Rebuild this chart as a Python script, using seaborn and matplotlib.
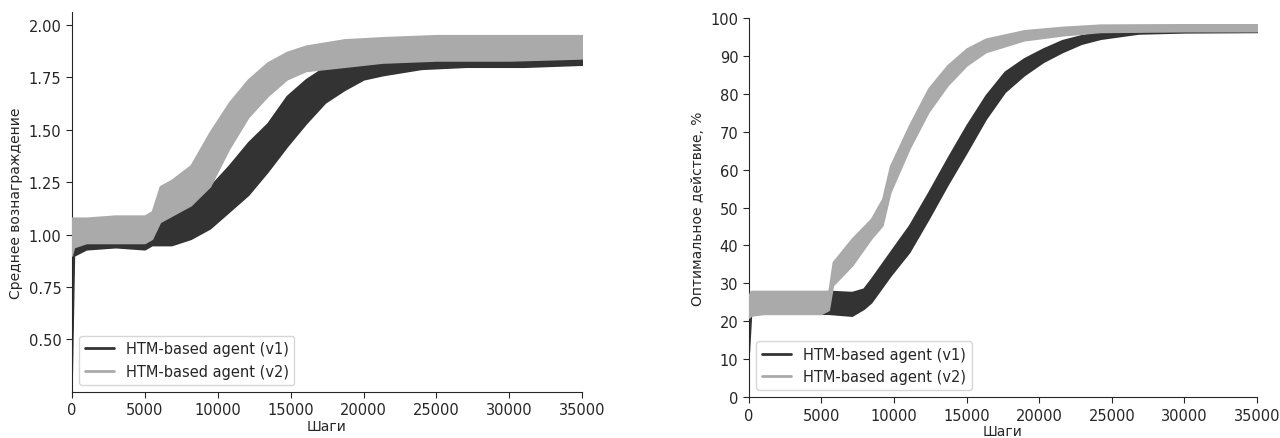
import numpy as np
import matplotlib
matplotlib.use("Agg")
import matplotlib.pyplot as plt
import seaborn as sns

# ---- data (band = envelope of the noisy curve) ----
labels = ["HTM-based agent (v1)", "HTM-based agent (v2)"]
colors = ["#333333", "#aaaaaa"]

# Left panel: average reward
rw_v1_x  = [0, 150, 1000, 3000, 5000, 5500, 6840, 8160, 9475, 10790, 12100, 13420, 14740, 16050, 17370, 18690, 20000, 21300, 23950, 27000, 31000, 35000]
rw_v1_lo = [0.33, 0.90, 0.93, 0.94, 0.93, 0.95, 0.95, 0.98, 1.03, 1.11, 1.19, 1.30, 1.42, 1.53, 1.63, 1.69, 1.74, 1.76, 1.79, 1.80, 1.80, 1.81]
rw_v1_hi = [0.95, 0.98, 0.98, 0.98, 0.98, 1.05, 1.11, 1.14, 1.23, 1.33, 1.44, 1.53, 1.66, 1.74, 1.80, 1.82, 1.83, 1.83, 1.84, 1.85, 1.86, 1.86]

rw_v2_x  = [0, 150, 1000, 3000, 5000, 5500, 6050, 6840, 8160, 9475, 10790, 12100, 13420, 14740, 16050, 18690, 21300, 25000, 30000, 35000]
rw_v2_lo = [0.90, 0.94, 0.96, 0.96, 0.96, 0.98, 1.06, 1.09, 1.14, 1.23, 1.41, 1.56, 1.66, 1.74, 1.78, 1.80, 1.82, 1.83, 1.83, 1.84]
rw_v2_hi = [1.08, 1.08, 1.08, 1.09, 1.09, 1.11, 1.23, 1.26, 1.33, 1.49, 1.63, 1.74, 1.82, 1.87, 1.90, 1.93, 1.94, 1.95, 1.95, 1.95]

# Right panel: optimal action, %
oa_v1_x  = [0, 150, 1000, 3000, 5500, 7100, 7900, 8420, 9740, 11050, 12370, 13680, 15000, 16320, 17630, 18950, 20270, 21580, 22900, 24210, 26840, 30000, 35000]
oa_v1_lo = [12, 22, 22, 22, 22, 21.5, 23.3, 25, 32, 38.3, 47, 56, 64.6, 73.4, 80.5, 84.9, 88.4, 91.0, 93.2, 94.5, 95.9, 96.2, 96.3]
oa_v1_hi = [22, 26, 26, 26, 28, 27.7, 28.6, 31.2, 38.3, 45.3, 54, 63, 71.7, 79.6, 85.8, 89.3, 91.9, 94.1, 95.4, 96.3, 96.7, 97.0, 97.0]

oa_v2_x  = [0, 150, 1000, 3000, 5000, 5500, 5790, 7100, 8420, 9200, 9740, 11050, 12370, 13680, 15000, 16320, 18950, 21580, 24210, 30000, 35000]
oa_v2_lo = [21, 21.5, 22, 22, 22, 23, 29.5, 34.7, 41.8, 45.3, 54, 65.5, 75.2, 82.2, 87.5, 91.0, 94.1, 95.4, 96.3, 96.5, 96.5]
oa_v2_hi = [27, 28, 28, 28, 28, 28, 35.6, 41.8, 47, 52.3, 61, 71.7, 81.4, 87.5, 91.9, 94.5, 96.7, 97.6, 98.2, 98.3, 98.3]

xticks = [0, 5000, 10000, 15000, 20000, 25000, 30000, 35000]
xlabel = "Шаги"
ylabel_left = "Среднее вознаграждение"
ylabel_right = "Оптимальное действие, %"

sns.set_style("ticks")
plt.rcParams["font.family"] = ["DejaVu Sans"]

fig = plt.figure(figsize=(12.8, 4.39), dpi=100)
axL = fig.add_axes([0.056, 0.105, 0.399, 0.865])
axR = fig.add_axes([0.585, 0.093, 0.397, 0.864])

panels = [
    (axL, [(rw_v1_x, rw_v1_lo, rw_v1_hi), (rw_v2_x, rw_v2_lo, rw_v2_hi)], ylabel_left),
    (axR, [(oa_v1_x, oa_v1_lo, oa_v1_hi), (oa_v2_x, oa_v2_lo, oa_v2_hi)], ylabel_right),
]

for ax, series, ylab in panels:
    for i, ((xs, lo, hi), lab, c) in enumerate(zip(series, labels, colors)):
        ax.fill_between(xs, lo, hi, color=c, lw=1.2, edgecolor=c, zorder=2 * i + 1)
        mid = (np.array(lo) + np.array(hi)) / 2
        sns.lineplot(x=xs, y=mid, color=c, lw=1.2, ax=ax, label=lab, zorder=2 * i + 2)
    ax.set_xlabel(xlabel, fontsize=10, labelpad=1)
    ax.set_ylabel(ylab, fontsize=10)
    ax.set_xticks(xticks)
    ax.set_xlim(0, 35000)
    ax.tick_params(labelsize=10.5, direction="out", length=4)
    sns.despine(ax=ax)
    leg = ax.legend(loc="lower left", fontsize=10.5, frameon=True, fancybox=True)
    leg.set_zorder(10)
    for h in leg.get_lines():
        h.set_linewidth(2)

axL.set_ylim(0.25, 2.06)
axL.set_yticks([0.5, 0.75, 1.0, 1.25, 1.5, 1.75, 2.0])
axR.set_ylim(0, 100)
axR.set_yticks(range(0, 101, 10))

fig.savefig("out.png", dpi=100)
